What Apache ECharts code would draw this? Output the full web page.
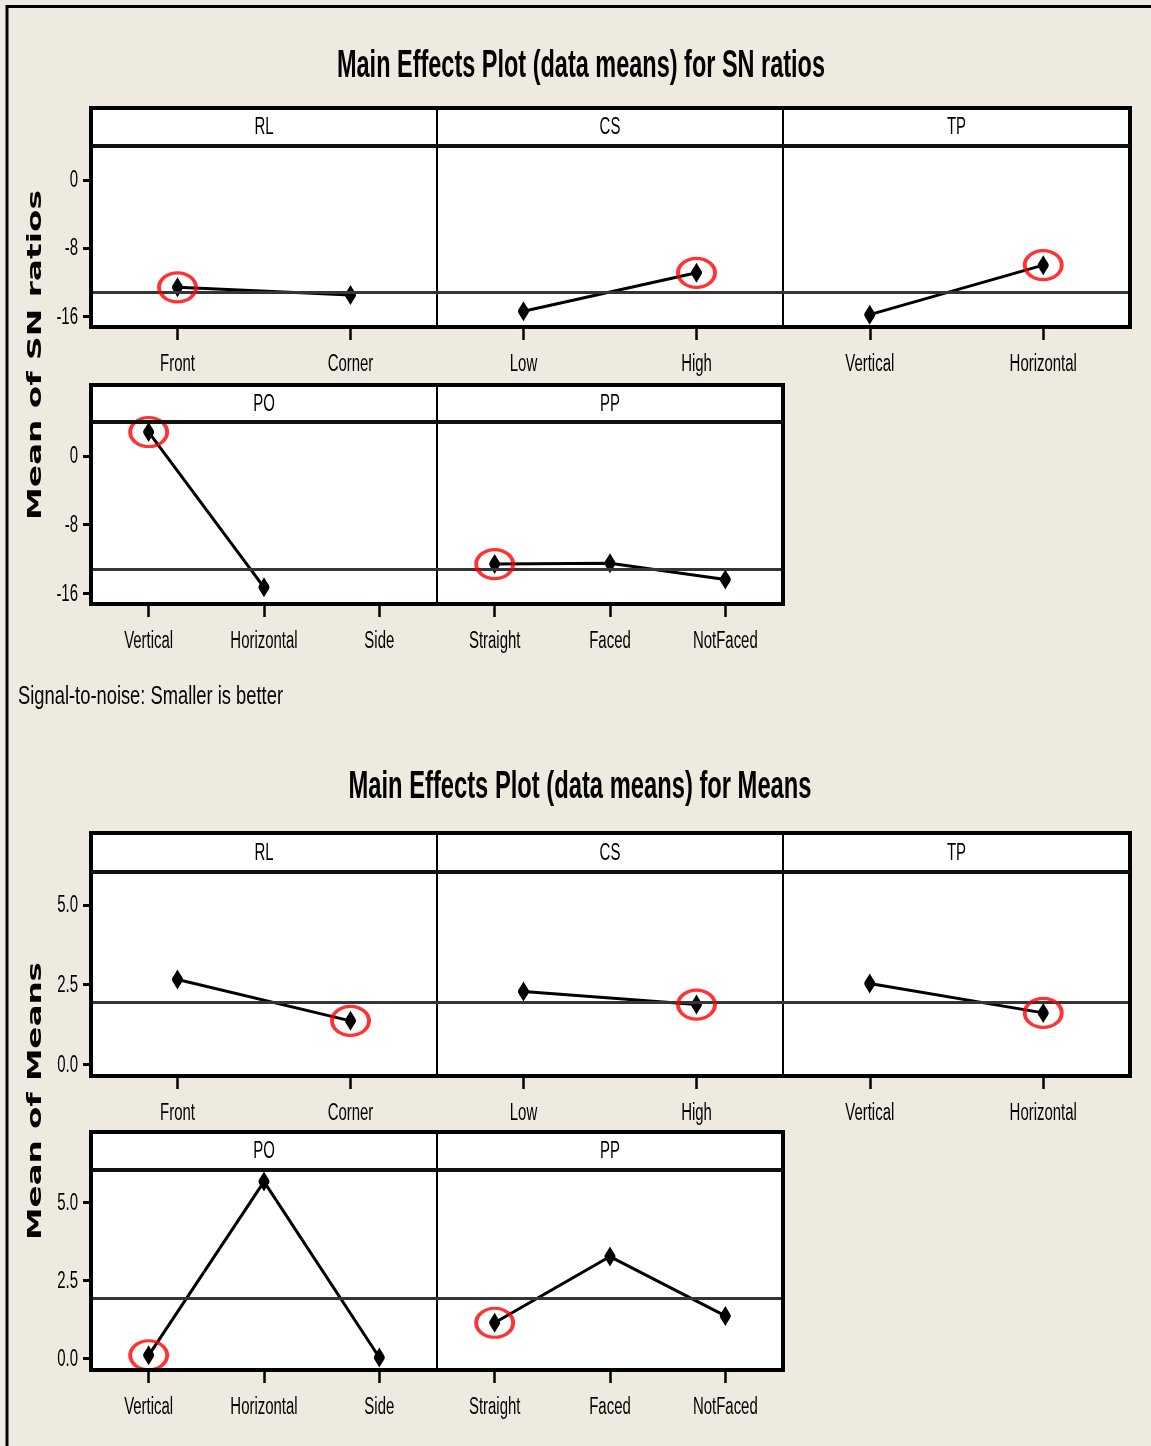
<!DOCTYPE html>
<html>
<head>
<meta charset="utf-8">
<script src="https://cdn.jsdelivr.net/npm/echarts@6.0.0/dist/echarts.min.js"></script>
<style>
html, body { margin: 0; padding: 0; background: #eeeae0; }
#app { width: 1151px; height: 1446px; }
</style>
</head>
<body>
<div id="app"></div>
<script>
// factors and their levels
var factors = ['RL', 'CS', 'TP', 'PO', 'PP'];
var levels = [
    ['Front', 'Corner'],
    ['Low', 'High'],
    ['Vertical', 'Horizontal'],
    ['Vertical', 'Horizontal', 'Side'],
    ['Straight', 'Faced', 'NotFaced']
];
// mean of SN ratios per level (PO Side has no value)
var snMeans = [
    [-12.6, -13.5],
    [-15.4, -10.9],
    [-15.8, -10.0],
    [2.8, -15.3, null],
    [-12.6, -12.5, -14.4]
];
// mean of means per level
var meanMeans = [
    [2.66, 1.36],
    [2.28, 1.87],
    [2.53, 1.61],
    [0.10, 5.66, 0.03],
    [1.14, 3.26, 1.36]
];
// level circled in red
var snBest = [0, 1, 1, 0, 0];
var meanBest = [1, 1, 1, 0, 0];
var snGrand = -13.2;
var meanGrand = 1.93;
var snTicks = [-16, -8, 0];
var meanTicks = [0, 2.5, 5];

var SANS = '"Liberation Sans", Arial, sans-serif';
var SMALL = '23px ' + SANS;
var SQUEEZE = 0.65;
var MARKER = 'path://M5,0C8,6 10,8 10,10C10,12 8,14 5,20C2,14 0,12 0,10C0,8 2,6 5,0Z';
var colX = [91, 437, 783, 1130];

var blocks = [
    {
        values: snMeans, best: snBest, grand: snGrand, ticks: snTicks,
        min: -17.25, max: 3.97,
        fmt: function (v) { return String(v); },
        rows: [{strip: 108, top: 146, bottom: 327}, {strip: 385, top: 422, bottom: 604}]
    },
    {
        values: meanMeans, best: meanBest, grand: meanGrand, ticks: meanTicks,
        min: -0.37, max: 6.03,
        fmt: function (v) { return v.toFixed(1); },
        rows: [{strip: 833, top: 872, bottom: 1076}, {strip: 1132, top: 1170, bottom: 1370}]
    }
];

// squeeze text to the narrow look it has in the picture
var ctx = document.createElement('canvas').getContext('2d');
function fit(text, font, width) {
    ctx.font = font;
    return width / ctx.measureText(text).width;
}
function txt(text, font, scale, x, y, align, rot) {
    return {
        type: 'text', x: x, y: y, rotation: rot || 0, scaleX: scale, z: 100,
        style: {text: text, font: font, fill: '#000', align: align, verticalAlign: 'middle'}
    };
}

var grids = [], xAxes = [], yAxes = [], series = [];
var graphics = [{
    type: 'rect', shape: {x: 7, y: 6.5, width: 1170, height: 1460},
    style: {fill: null, stroke: '#000', lineWidth: 3}, z: 100
}];

blocks.forEach(function (b) {
    factors.forEach(function (f, i) {
        var row = b.rows[i < 3 ? 0 : 1];
        var col = i < 3 ? i : i - 3;
        var k = grids.length;
        var left = colX[col], width = colX[col + 1] - colX[col];
        grids.push({
            left: left, top: row.top, width: width, height: row.bottom - row.top,
            show: true, backgroundColor: '#fff', borderColor: '#000', borderWidth: 2
        });
        xAxes.push({
            type: 'category', gridIndex: k, data: levels[i], boundaryGap: true,
            axisLine: {show: false, onZero: false},
            axisTick: {show: true, alignWithLabel: true, interval: 0, length: 13, lineStyle: {color: '#000', width: 2.5}},
            axisLabel: {show: false},
            splitLine: {show: false}
        });
        yAxes.push({
            type: 'value', gridIndex: k, min: b.min, max: b.max, show: col === 0,
            axisLine: {show: false}, splitLine: {show: false},
            axisTick: {show: true, length: 8, customValues: b.ticks, lineStyle: {color: '#000', width: 3}},
            axisLabel: {show: false}
        });
        series.push({
            type: 'line', xAxisIndex: k, yAxisIndex: k, data: b.values[i],
            symbol: MARKER, symbolSize: [11, 20], connectNulls: false,
            itemStyle: {color: '#000'}, lineStyle: {color: '#000', width: 3},
            markLine: {
                silent: true, symbol: 'none', label: {show: false},
                lineStyle: {color: '#353535', width: 3, type: 'solid'},
                data: [{yAxis: b.grand}]
            },
            z: 3
        });
        var j = b.best[i];
        series.push({
            type: 'scatter', xAxisIndex: k, yAxisIndex: k,
            data: [[levels[i][j], b.values[i][j]]],
            symbol: 'circle', symbolSize: [37, 29],
            itemStyle: {color: 'rgba(0,0,0,0)', borderColor: '#f00', borderWidth: 3.5},
            z: 5
        });
        // strip header
        graphics.push({
            type: 'rect', shape: {x: left, y: row.strip, width: width, height: row.top - row.strip},
            style: {fill: '#fff', stroke: '#000', lineWidth: 2}, z: 1
        });
        graphics.push(txt(f, SMALL, SQUEEZE, left + width / 2, (row.strip + row.top) / 2 + 1, 'center'));
    });
    b.rows.forEach(function (row, r) {
        var right = colX[r === 0 ? 3 : 2];
        graphics.push({
            type: 'rect', shape: {x: colX[0], y: row.strip, width: right - colX[0], height: row.bottom - row.strip},
            style: {fill: null, stroke: '#000', lineWidth: 4}, z: 100
        });
        graphics.push({
            type: 'line', shape: {x1: colX[0], y1: row.top, x2: right, y2: row.top},
            style: {stroke: '#111', lineWidth: 4}, z: 100
        });
    });
});

var titleFont = 'bold 38px ' + SANS;
var nameFont = 'bold 20px "DejaVu Sans", Verdana, sans-serif';
var t1 = 'Main Effects Plot (data means) for SN ratios';
var t2 = 'Main Effects Plot (data means) for Means';
var note = 'Signal-to-noise: Smaller is better';
var n1 = 'Mean of SN ratios', n2 = 'Mean of Means';
graphics.push(txt(t1, titleFont, fit(t1, titleFont, 488), 581, 67, 'center'));
graphics.push(txt(t2, titleFont, fit(t2, titleFont, 463), 580, 788, 'center'));
graphics.push(txt(note, '25px ' + SANS, fit(note, '25px ' + SANS, 265), 18, 697, 'left'));
graphics.push(txt(n1, nameFont, fit(n1, nameFont, 330), 36, 355, 'center', Math.PI / 2));
graphics.push(txt(n2, nameFont, fit(n2, nameFont, 278), 36, 1101, 'center', Math.PI / 2));

var myChart = echarts.init(document.getElementById('app'));
myChart.setOption({
    backgroundColor: '#eeeae0',
    animation: false,
    grid: grids,
    xAxis: xAxes,
    yAxis: yAxes,
    series: series,
    graphic: {elements: graphics}
});

// axis labels placed through the axes' own scales, drawn narrow like the picture
var k = 0;
blocks.forEach(function (b) {
    factors.forEach(function (f, i) {
        levels[i].forEach(function (name) {
            var p = myChart.convertToPixel({gridIndex: k}, [name, b.min]);
            graphics.push(txt(name, SMALL, SQUEEZE, p[0], p[1] + 38, 'center'));
        });
        if (i === 0 || i === 3) {
            b.ticks.forEach(function (t) {
                var p = myChart.convertToPixel({gridIndex: k}, [levels[i][0], t]);
                graphics.push(txt(b.fmt(t), SMALL, SQUEEZE, grids[k].left - 13, p[1] + 1, 'right'));
            });
        }
        k++;
    });
});
myChart.setOption({graphic: {elements: graphics}});
</script>
</body>
</html>
